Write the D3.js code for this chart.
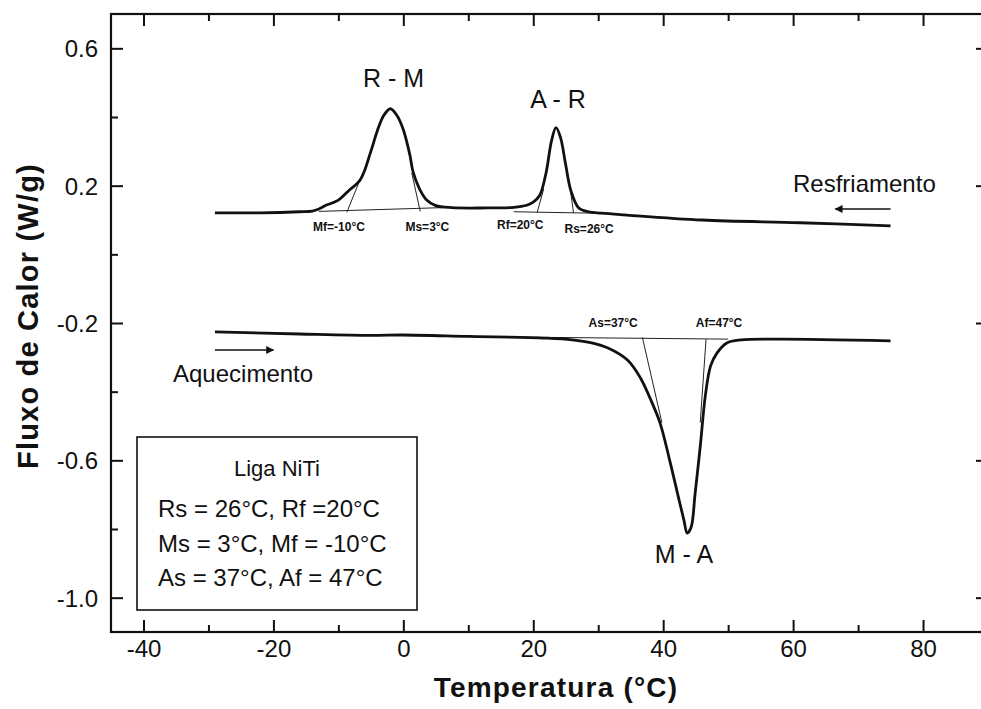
<!DOCTYPE html>
<html>
<head>
<meta charset="utf-8">
<script src="https://cdn.jsdelivr.net/npm/d3@7"></script>
<style>
  html, body { margin: 0; padding: 0; background: #fff; }
  svg { display: block; font-family: "Liberation Sans", Arial, sans-serif; }
</style>
</head>
<body>
<svg id="chart" width="981" height="709"></svg>
<script>
// ---------- data ----------
const xMajorTicks = [-40, -20, 0, 20, 40, 60, 80];
const xMinorTicks = [-30, -10, 10, 30, 50, 70];
const yMajorTicks = [0.6, 0.2, -0.2, -0.6, -1.0];
const yMinorTicks = [0.4, 0.0, -0.4, -0.8];

// Cooling (Resfriamento) curve: temperature (°C), heat flow (W/g)
const coolingT = [-29, -22, -16, -14, -13, -12, -10, -8.5, -6.6, -5, -4, -3, -2, -1, 0, 1, 1.5, 2.5, 3.5, 5, 7.5, 12, 17, 19, 20, 21, 22, 22.8, 23.5, 24.2, 25, 25.8, 27, 28.5, 30.5, 34, 46, 61, 75];
const coolingQ = [0.121, 0.121, 0.124, 0.126, 0.132, 0.142, 0.158, 0.184, 0.218, 0.300, 0.360, 0.405, 0.424, 0.405, 0.363, 0.290, 0.240, 0.190, 0.160, 0.142, 0.136, 0.135, 0.137, 0.143, 0.152, 0.172, 0.240, 0.330, 0.369, 0.340, 0.260, 0.185, 0.135, 0.124, 0.120, 0.115, 0.100, 0.092, 0.083];

// Heating (Aquecimento) curve
const heatingT = [-29, -16, -5, 0, 10, 18, 22, 26, 29, 31.5, 34.5, 36.5, 38, 39.5, 41, 42.5, 43.2, 43.7, 44.3, 44.9, 45.7, 46.5, 47.3, 48.3, 49.8, 52, 58, 75];
const heatingQ = [-0.226, -0.232, -0.236, -0.235, -0.239, -0.242, -0.244, -0.249, -0.258, -0.273, -0.308, -0.360, -0.420, -0.490, -0.600, -0.720, -0.775, -0.812, -0.795, -0.700, -0.560, -0.410, -0.325, -0.287, -0.258, -0.249, -0.247, -0.252];

// construction lines (baselines and tangents): [[T1,Q1],[T2,Q2]]
const constructionLines = [
  [[-13, 0.125], [6, 0.136]],
  [[-8.7, 0.122], [-6.3, 0.235]],
  [[1.3, 0.237], [2.6, 0.125]],
  [[17, 0.124], [32, 0.119]],
  [[21.6, 0.190], [20.6, 0.122]],
  [[25.7, 0.190], [26.2, 0.120]],
  [[17, -0.241], [50, -0.247]],
  [[36.8, -0.242], [39.8, -0.490]],
  [[46.6, -0.247], [45.7, -0.490]]
];

// small transformation-temperature labels
const tempLabels = ["Mf=-10°C", "Ms=3°C", "Rf=20°C", "Rs=26°C", "As=37°C", "Af=47°C"];
const tempLabelT = [-9.9, 3.7, 18, 28.6, 32.3, 48.6];
const tempLabelQ = [0.068, 0.068, 0.074, 0.062, -0.211, -0.211];

// peak labels
const peakLabels = ["R - M", "A - R", "M - A"];
const peakLabelT = [-1.5, 23.8, 43.2];
const peakLabelQ = [0.486, 0.427, -0.900];

const legendTitle = "Liga NiTi";
const legendLines = ["Rs = 26°C, Rf =20°C", "Ms = 3°C, Mf = -10°C", "As = 37°C, Af = 47°C"];

// ---------- layout ----------
(function draw() {
const svg = d3.select("#chart");
const pL = 111, pR = 988, pT = 14, pB = 632;
const x = d3.scaleLinear().domain([-45, 90]).range([pL, pR]);
const y = d3.scaleLinear().domain([-1.1, 0.7]).range([pB, pT]);
const hy = f => (v => f(v).replace("\u2212", "-"));

const g = svg.append("g");

// frame
g.append("rect").attr("x", pL).attr("y", pT).attr("width", pR - pL).attr("height", pB - pT)
  .attr("fill", "none").attr("stroke", "#111").attr("stroke-width", 2.2);

function addAxis(axisGen, transform) {
  const a = g.append("g").attr("transform", transform).call(axisGen);
  a.select(".domain").remove();
  a.selectAll(".tick line").attr("stroke", "#111").attr("stroke-width", 2);
  return a;
}
// bottom
addAxis(d3.axisBottom(x).tickValues(xMajorTicks).tickSizeInner(-12).tickSizeOuter(0).tickFormat(hy(d3.format("d"))), `translate(0,${pB})`)
  .selectAll("text").attr("font-size", 24).attr("fill", "#111").attr("y", 8).attr("dy", "0.72em");
addAxis(d3.axisBottom(x).tickValues(xMinorTicks).tickSizeInner(-7).tickSizeOuter(0).tickFormat(""), `translate(0,${pB})`);
// top
addAxis(d3.axisTop(x).tickValues(xMajorTicks).tickSizeInner(-12).tickSizeOuter(0).tickFormat(""), `translate(0,${pT})`);
addAxis(d3.axisTop(x).tickValues(xMinorTicks).tickSizeInner(-7).tickSizeOuter(0).tickFormat(""), `translate(0,${pT})`);
// left
addAxis(d3.axisLeft(y).tickValues(yMajorTicks).tickSizeInner(-12).tickSizeOuter(0).tickFormat(hy(d3.format(".1f"))), `translate(${pL},0)`)
  .selectAll("text").attr("font-size", 24).attr("fill", "#111").attr("x", -13).attr("dy", "0.36em");
addAxis(d3.axisLeft(y).tickValues(yMinorTicks).tickSizeInner(-7).tickSizeOuter(0).tickFormat(""), `translate(${pL},0)`);
// right
addAxis(d3.axisRight(y).tickValues(yMajorTicks).tickSizeInner(-12).tickSizeOuter(0).tickFormat(""), `translate(${pR},0)`);
addAxis(d3.axisRight(y).tickValues(yMinorTicks).tickSizeInner(-7).tickSizeOuter(0).tickFormat(""), `translate(${pR},0)`);

// axis titles
svg.append("text").attr("x", 556).attr("y", 697).attr("text-anchor", "middle")
  .attr("font-size", 28).attr("font-weight", "bold").attr("letter-spacing", 1.2).attr("fill", "#111")
  .text("Temperatura (°C)");
svg.append("text").attr("transform", "translate(38,316) rotate(-90)").attr("text-anchor", "middle")
  .attr("font-size", 29).attr("font-weight", "bold").attr("letter-spacing", 1.2).attr("fill", "#111")
  .text("Fluxo de Calor (W/g)");

// construction lines
const line = d3.line().x(d => x(d[0])).y(d => y(d[1]));
g.selectAll(".cons").data(constructionLines).join("path").attr("class", "cons")
  .attr("d", d => line(d)).attr("fill", "none").attr("stroke", "#222").attr("stroke-width", 1);

// curves
const curveLine = d3.line().x(d => x(d[0])).y(d => y(d[1])).curve(d3.curveCatmullRom.alpha(0.5));
const cooling = coolingT.map((t, i) => [t, coolingQ[i]]);
const heating = heatingT.map((t, i) => [t, heatingQ[i]]);
[cooling, heating].forEach(data => {
  g.append("path").attr("d", curveLine(data)).attr("fill", "none")
    .attr("stroke", "#111").attr("stroke-width", 2.8).attr("stroke-linejoin", "round");
});

// temperature labels
tempLabels.forEach((s, i) => {
  g.append("text").attr("x", x(tempLabelT[i])).attr("y", y(tempLabelQ[i]))
    .attr("text-anchor", "middle").attr("font-size", 12).attr("font-weight", "bold").attr("fill", "#111").text(s);
});
// peak labels
peakLabels.forEach((s, i) => {
  g.append("text").attr("x", x(peakLabelT[i])).attr("y", y(peakLabelQ[i]))
    .attr("text-anchor", "middle").attr("font-size", 25).attr("fill", "#111").text(s);
});

// direction arrows
const defs = svg.append("defs");
defs.append("marker").attr("id", "ah").attr("viewBox", "0 0 10 10").attr("refX", 9).attr("refY", 5)
  .attr("markerWidth", 16).attr("markerHeight", 8).attr("markerUnits", "userSpaceOnUse").attr("orient", "auto")
  .append("path").attr("d", "M0,0 L10,5 L0,10 z").attr("fill", "#111");

g.append("line").attr("x1", x(-29)).attr("x2", x(-20)).attr("y1", 350).attr("y2", 350)
  .attr("stroke", "#111").attr("stroke-width", 1.6).attr("marker-end", "url(#ah)");
g.append("text").attr("x", 173).attr("y", 382).attr("font-size", 24).attr("fill", "#111").text("Aquecimento");

g.append("line").attr("x1", x(75)).attr("x2", x(66.5)).attr("y1", 209).attr("y2", 209)
  .attr("stroke", "#111").attr("stroke-width", 1.6).attr("marker-end", "url(#ah)");
g.append("text").attr("x", 793).attr("y", 192).attr("font-size", 24).attr("fill", "#111").text("Resfriamento");

// legend box
const lg = g.append("g");
lg.append("rect").attr("x", 137).attr("y", 437).attr("width", 280).attr("height", 173)
  .attr("fill", "#fff").attr("stroke", "#111").attr("stroke-width", 1.6);
lg.append("text").attr("x", 277).attr("y", 476).attr("text-anchor", "middle").attr("font-size", 22).attr("fill", "#111").text(legendTitle);
legendLines.forEach((s, i) => {
  lg.append("text").attr("x", 158).attr("y", 517 + i * 34.5).attr("font-size", 24).attr("fill", "#111").text(s);
});
})();
</script>
</body>
</html>
